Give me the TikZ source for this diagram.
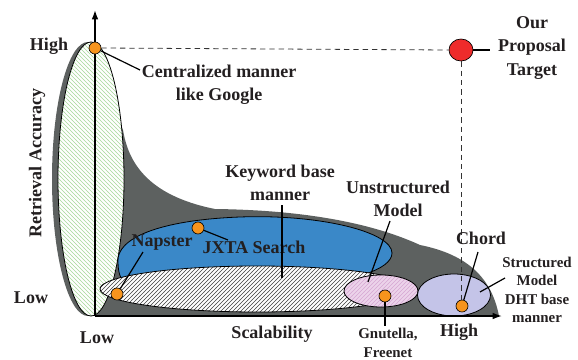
\documentclass[tikz,border=0pt]{standalone}
\usepackage{fontspec}
\setmainfont{Liberation Serif}
\usetikzlibrary{patterns,arrows.meta,shapes.geometric}
\definecolor{graymain}{HTML}{5D6160}
\definecolor{bluefill}{HTML}{3A88C8}
\definecolor{greenline}{HTML}{A6D89A}
\definecolor{pinkfill}{HTML}{ECD3EA}
\definecolor{pinkline}{HTML}{D6A6D2}
\definecolor{lavfill}{HTML}{C4C4E8}
\definecolor{orangedot}{HTML}{F7941D}
\definecolor{reddot}{HTML}{EE2B2B}
\definecolor{txt}{HTML}{231F20}
\tikzset{
  lbl/.style={inner sep=0pt, text=txt, font=\fontsize{13.5}{17.5}\selectfont\bfseries, align=center},
  slbl/.style={inner sep=0pt, text=txt, font=\fontsize{11.2}{13.8}\selectfont\bfseries, align=center},
  dot/.style={circle, draw=black, line width=0.5pt, fill=orangedot, minimum size=9pt, inner sep=0pt},
  conn/.style={draw=black, line width=0.9pt},
  axisline/.style={draw=black, line width=1.1pt, -{Latex[length=7pt,width=5pt]}},
  guide/.style={draw=black!80, line width=0.6pt, dash pattern=on 4pt off 3pt},
  outl/.style={draw=black, line width=0.6pt}
}
\begin{document}
\begin{tikzpicture}[x=0.75pt,y=-0.75pt]
\path[use as bounding box] (0,0) rectangle (578,360);
% gray region
\fill[graymain] (88,179) ellipse [x radius=36, y radius=137];
\fill[graymain] (110,100) -- (123,130) .. controls (128,160) and (145,195) .. (215,209)
  .. controls (300,210) and (370,222) .. (420,245)
  .. controls (470,255) and (492,280) .. (499,316) -- (95,316) -- cycle;
% green ellipse
\fill[white] (91,179) ellipse [x radius=33, y radius=137];
\fill[pattern=north west lines, pattern color=greenline] (91,179) ellipse [x radius=33, y radius=137];
\draw[outl] (91,179) ellipse [x radius=33, y radius=137];
% blue
\path[fill=bluefill, outl] (118,262) .. controls (116,238) and (160,220) .. (240,217)
  .. controls (320,214) and (392,232) .. (392,253)
  .. controls (392,270) and (350,282) .. (300,284) -- (130,284)
  .. controls (122,284) and (118,275) .. (118,262) -- cycle;
% hatched ellipse
\fill[white] (257,289) ellipse [x radius=157, y radius=23];
\fill[pattern=north east lines, pattern color=black!75] (257,289) ellipse [x radius=157, y radius=23];
\draw[outl] (257,289) ellipse [x radius=157, y radius=23];
% pink
\fill[pinkfill] (381,291) ellipse [x radius=37, y radius=16];
\fill[pattern=north east lines, pattern color=pinkline] (381,291) ellipse [x radius=37, y radius=16];
\draw[outl] (381,291) ellipse [x radius=37, y radius=16];
% lavender
\path[fill=lavfill, outl] (454,295) ellipse [x radius=36.5, y radius=21];
% axes
\coordinate (O) at (95,316);
\coordinate (ytop) at (95,10);
\coordinate (xend) at (502,316);
\draw[axisline] (O) -- (ytop);
\draw[axisline] (O) -- (xend);
% dots
\node[dot] (cg) at (95,48) {};
\node[dot] (nap) at (117,294) {};
\node[dot] (jx) at (198,228) {};
\node[dot] (gn) at (385,296) {};
\node[dot] (ch) at (462,306) {};
\node[ellipse, draw=black, line width=0.5pt, fill=reddot, minimum width=18pt, minimum height=16.5pt, inner sep=0pt] (tg) at (461,50) {};
% guides
\coordinate (vg) at (461,300);
\draw[guide] (cg.east) -- (tg.west);
\draw[guide] (tg.south) -- (vg);
% labels
\node[lbl] (hy) at (49,46) {High};
\node[lbl] (ly) at (31,298) {Low};
\node[lbl] (lx) at (97,338) {Low};
\node[lbl] (hx) at (459,332) {High};
\node[lbl] (sc) at (272,334) {Scalability};
\node[lbl, rotate=90] (ra) at (37,163) {Retrieval Accuracy};
\node[lbl] (cgl) at (219,85) {Centralized manner\\like Google};
\node[lbl] (kw) at (280,183) {Keyword base\\manner};
\node[lbl] (un) at (398,199) {Unstructured\\Model};
\node[lbl] (napl) at (162,243) {Napster};
\node[lbl] (jxl) at (254,247) {JXTA Search};
\node[slbl] (gnl) at (388,343) {Gnutella,\\Freenet};
\node[lbl] (chl) at (481,238) {Chord};
\node[slbl] (stl) at (537,290) {Structured\\Model\\DHT base\\manner};
\node[lbl] (our) at (532,48) {Our\\Proposal\\Target};
% connectors
\coordinate (c1) at (140,70);
\draw[conn] (cg) -- (c1);
\coordinate (k1) at (282,205);
\coordinate (k2) at (282,278);
\draw[conn] (k1) -- (k2);
\coordinate (u1) at (390,221);
\coordinate (u2) at (368,282);
\draw[conn] (u1) -- (u2);
\coordinate (n1) at (143,252);
\draw[conn] (n1) -- (nap);
\coordinate (j1) at (228,240);
\draw[conn] (jx) -- (j1);
\coordinate (g1) at (385,326);
\draw[conn] (gn) -- (g1);
\coordinate (h1) at (478,252);
\draw[conn] (h1) -- (ch);
\coordinate (s1) at (505,278);
\coordinate (s2) at (480,292);
\draw[conn] (s1) -- (s2);
\coordinate (t1) at (490,50);
\draw[conn] (tg.east) -- (t1);
\end{tikzpicture}
\end{document}
